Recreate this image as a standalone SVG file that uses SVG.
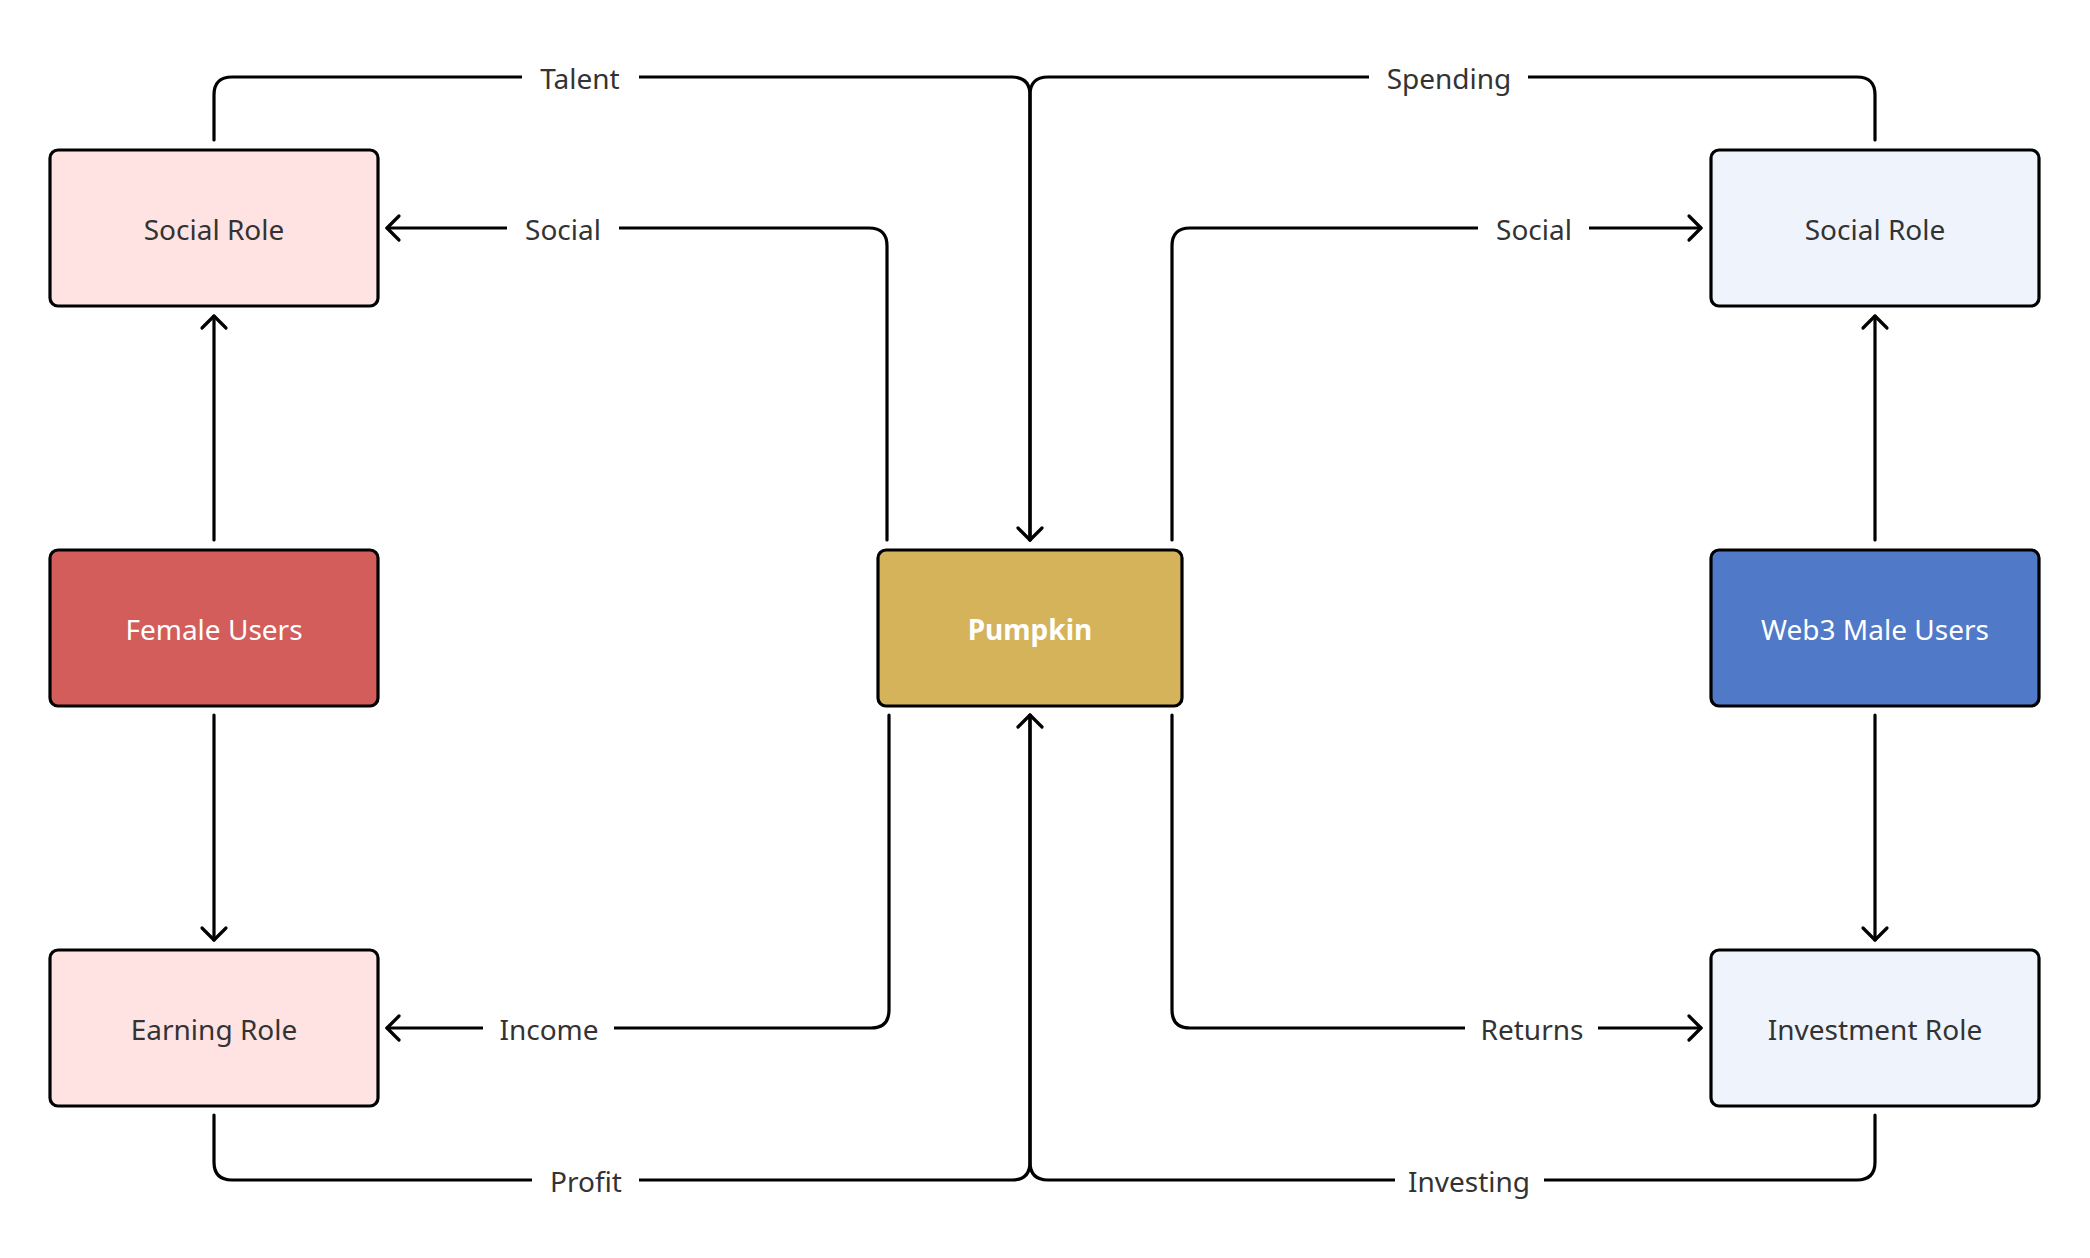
<svg xmlns="http://www.w3.org/2000/svg" width="2090" height="1258" viewBox="0 0 2090 1258">
  <defs>
    <style>
      .node { stroke: #000; stroke-width: 3.2; }
      .pink { fill: #FFE3E3; }
      .lblue { fill: #EFF4FC; }
      .red { fill: #D35D5B; }
      .gold { fill: #D4B35B; }
      .blue { fill: #5079C8; }
      .ntext { font-family: "Noto Sans", "Liberation Sans", sans-serif; font-size: 28px; text-anchor: middle; fill: #333333; }
      .wtext { fill: #FFFFFF; }
      .bold { font-weight: bold; }
      .conn { fill: none; stroke: #000; stroke-width: 3.2; stroke-linecap: round; }
      .lbg { fill: #FFFFFF; }
      .ltext { font-family: "Noto Sans", "Liberation Sans", sans-serif; font-size: 28px; text-anchor: middle; fill: #333333; }
    </style>
    <marker id="arrow" markerUnits="userSpaceOnUse" markerWidth="30" markerHeight="30" viewBox="-15 -15 30 30" refX="0" refY="0" orient="auto">
      <path d="M-12,-12 L0,0 L-12,12" fill="none" stroke="#000" stroke-width="3.2" stroke-linecap="round" stroke-linejoin="round"/>
    </marker>
  </defs>
  <rect width="2090" height="1258" fill="#FFFFFF"/>

  <g id="connectors">
    <path id="c-talent" class="conn" d="M214,140 V95 Q214,77 232,77 H1012 Q1030,77 1030,95 V540" marker-end="url(#arrow)"/>
    <path id="c-spending" class="conn" d="M1875,140 V95 Q1875,77 1857,77 H1048 Q1030,77 1030,95 V540"/>
    <path id="c-social-left" class="conn" d="M887,540 V246 Q887,228 869,228 H387" marker-end="url(#arrow)"/>
    <path id="c-social-right" class="conn" d="M1172,540 V246 Q1172,228 1190,228 H1701" marker-end="url(#arrow)"/>
    <path id="c-female-social" class="conn" d="M214,540 V316" marker-end="url(#arrow)"/>
    <path id="c-female-earning" class="conn" d="M214,715 V940" marker-end="url(#arrow)"/>
    <path id="c-income" class="conn" d="M889,715 V1010 Q889,1028 871,1028 H387" marker-end="url(#arrow)"/>
    <path id="c-returns" class="conn" d="M1172,715 V1010 Q1172,1028 1190,1028 H1701" marker-end="url(#arrow)"/>
    <path id="c-profit" class="conn" d="M214,1115 V1162 Q214,1180 232,1180 H1012 Q1030,1180 1030,1162 V715" marker-end="url(#arrow)"/>
    <path id="c-investing" class="conn" d="M1875,1115 V1162 Q1875,1180 1857,1180 H1048 Q1030,1180 1030,1162 V715"/>
    <path id="c-male-social" class="conn" d="M1875,540 V316" marker-end="url(#arrow)"/>
    <path id="c-male-investment" class="conn" d="M1875,715 V940" marker-end="url(#arrow)"/>

    <g id="labels">
      <rect class="lbg" x="522" y="61" width="117" height="34"/>
      <text class="ltext" x="580" y="89">Talent</text>
      <rect class="lbg" x="1369" y="61" width="159" height="34"/>
      <text class="ltext" x="1449" y="89">Spending</text>
      <rect class="lbg" x="507" y="211" width="112" height="34"/>
      <text class="ltext" x="563" y="240">Social</text>
      <rect class="lbg" x="1478" y="211" width="111" height="34"/>
      <text class="ltext" x="1534" y="240">Social</text>
      <rect class="lbg" x="483" y="1011" width="131" height="34"/>
      <text class="ltext" x="549" y="1040">Income</text>
      <rect class="lbg" x="1465" y="1011" width="133" height="34"/>
      <text class="ltext" x="1532" y="1040">Returns</text>
      <rect class="lbg" x="532" y="1163" width="107" height="34"/>
      <text class="ltext" x="586" y="1192">Profit</text>
      <rect class="lbg" x="1395" y="1163" width="149" height="34"/>
      <text class="ltext" x="1469" y="1192">Investing</text>
    </g>
  </g>

  <g id="node-social-role-left">
    <rect class="node pink" x="50" y="150" width="328" height="156" rx="8"/>
    <text class="ntext" x="214" y="240">Social Role</text>
  </g>
  <g id="node-female-users">
    <rect class="node red" x="50" y="550" width="328" height="156" rx="8"/>
    <text class="ntext wtext" x="214" y="640">Female Users</text>
  </g>
  <g id="node-earning-role">
    <rect class="node pink" x="50" y="950" width="328" height="156" rx="8"/>
    <text class="ntext" x="214" y="1040">Earning Role</text>
  </g>
  <g id="node-pumpkin">
    <rect class="node gold" x="878" y="550" width="304" height="156" rx="8"/>
    <text class="ntext wtext bold" x="1030" y="640">Pumpkin</text>
  </g>
  <g id="node-social-role-right">
    <rect class="node lblue" x="1711" y="150" width="328" height="156" rx="8"/>
    <text class="ntext" x="1875" y="240">Social Role</text>
  </g>
  <g id="node-web3-male-users">
    <rect class="node blue" x="1711" y="550" width="328" height="156" rx="8"/>
    <text class="ntext wtext" x="1875" y="640">Web3 Male Users</text>
  </g>
  <g id="node-investment-role">
    <rect class="node lblue" x="1711" y="950" width="328" height="156" rx="8"/>
    <text class="ntext" x="1875" y="1040">Investment Role</text>
  </g>
</svg>
